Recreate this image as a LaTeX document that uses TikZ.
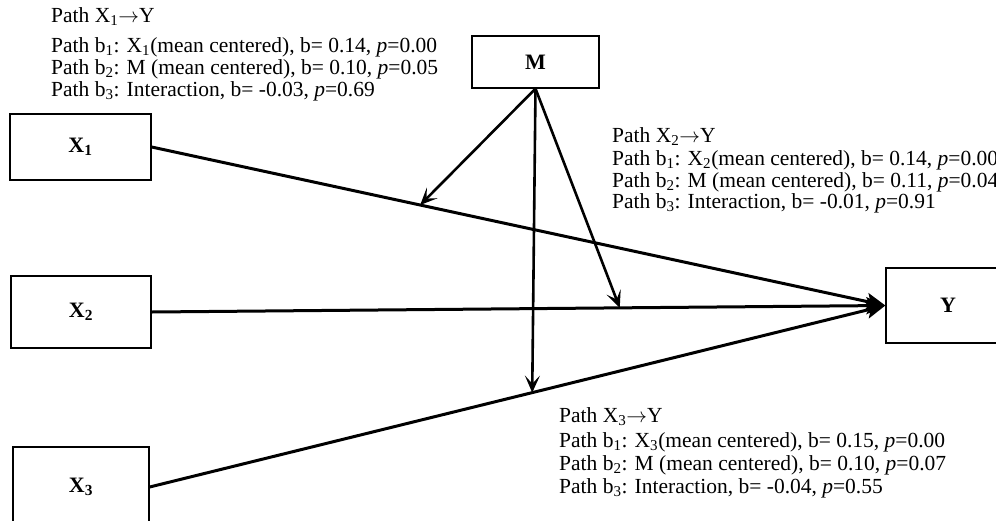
\documentclass[tikz,border=0pt]{standalone}
\usepackage{fontspec}
\setmainfont{Liberation Serif}
\usetikzlibrary{arrows.meta,calc}
\begin{document}
\begin{tikzpicture}[x=1pt,y=-1pt,
 box/.style={draw, line width=1.3pt, inner sep=0pt, font=\fontsize{22}{22}\selectfont\bfseries},
 lbl/.style={anchor=base west, inner sep=0pt, font=\fontsize{21.5}{22}\selectfont},
 effect/.style={line width=3pt, -{Stealth[length=19pt,width=17pt,inset=4pt]}},
 moder/.style={line width=2.6pt, -{Stealth[length=17pt,width=15pt,inset=8pt]}}]
\useasboundingbox (0,0) rectangle (996,520);
\clip (0,0) rectangle (996,520);
\fill[white] (0,0) rectangle (996,520);
\node[box, minimum width=141, minimum height=66] (X1) at (80.5,147) {X\textsubscript{1}};
\node[box, minimum width=140, minimum height=72] (X2) at (81,312) {X\textsubscript{2}};
\node[box, minimum width=136, minimum height=80] (X3) at (81,487) {X\textsubscript{3}};
\node[box, minimum width=124, minimum height=75] (Y) at (948,305.5) {Y};
\node[box, minimum width=127, minimum height=52] (M) at (535.5,62) {M};
\draw[effect] (X1.east) -- (Y.west);
\draw[effect] (X2.east) -- (Y.west);
\draw[effect] (X3.east) -- (Y.west);
\draw[moder] (M.south) -- ($(X1.east)!0.366!(Y.west)$);
\draw[moder] (M.south) -- ($(X2.east)!0.638!(Y.west)$);
\draw[moder] (M.south) -- ($(X3.east)!0.52!(Y.west)$);
\node[lbl] (a1) at (51,22) {Path X\textsubscript{1}$\rightarrow$Y};
\node[lbl] (a2) at (51,52) {Path b\textsubscript{1}: X\textsubscript{1}(mean centered), b= 0.14, \textit{p}=0.00};
\node[lbl] (a3) at (51,74) {Path b\textsubscript{2}: M (mean centered), b= 0.10, \textit{p}=0.05};
\node[lbl] (a4) at (51,96) {Path b\textsubscript{3}: Interaction, b= -0.03, \textit{p}=0.69};
\node[lbl] (b1) at (612,142) {Path X\textsubscript{2}$\rightarrow$Y};
\node[lbl] (b2) at (612,165) {Path b\textsubscript{1}: X\textsubscript{2}(mean centered), b= 0.14, \textit{p}=0.00};
\node[lbl] (b3) at (612,187) {Path b\textsubscript{2}: M (mean centered), b= 0.11, \textit{p}=0.04};
\node[lbl] (b4) at (612,208) {Path b\textsubscript{3}: Interaction, b= -0.01, \textit{p}=0.91};
\node[lbl] (c1) at (559,422) {Path X\textsubscript{3}$\rightarrow$Y};
\node[lbl] (c2) at (559,447) {Path b\textsubscript{1}: X\textsubscript{3}(mean centered), b= 0.15, \textit{p}=0.00};
\node[lbl] (c3) at (559,470) {Path b\textsubscript{2}: M (mean centered), b= 0.10, \textit{p}=0.07};
\node[lbl] (c4) at (559,493) {Path b\textsubscript{3}: Interaction, b= -0.04, \textit{p}=0.55};
\end{tikzpicture}
\end{document}
